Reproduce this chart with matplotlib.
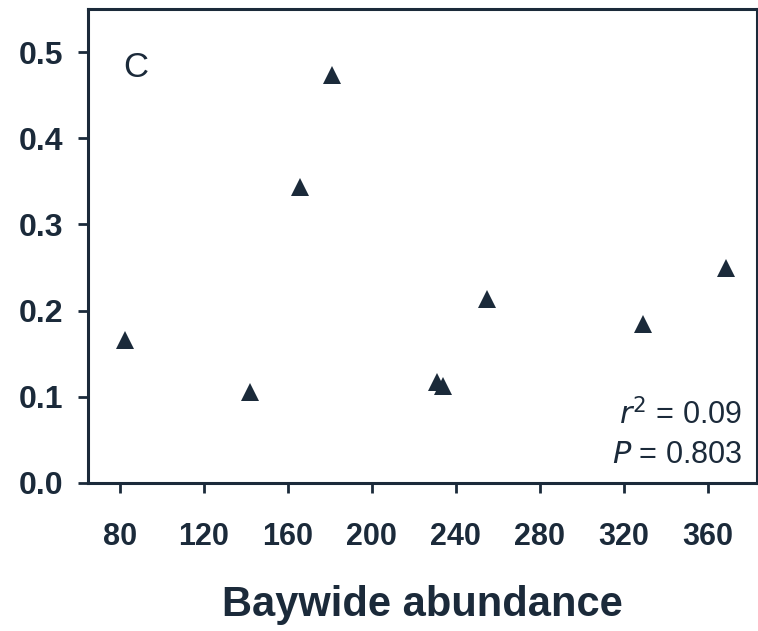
import matplotlib
matplotlib.use("Agg")
import matplotlib.pyplot as plt

abundance = [82.4, 141.9, 165.7, 181.0, 231.0, 233.8, 254.8, 329.0, 368.6]
value = [0.166, 0.106, 0.343, 0.473, 0.117, 0.112, 0.214, 0.185, 0.250]
xticks = [80, 120, 160, 200, 240, 280, 320, 360]
yticks = [0.0, 0.1, 0.2, 0.3, 0.4, 0.5]

ink = "#1b2a3a"
plt.rcParams['font.family'] = ['Liberation Sans', 'DejaVu Sans']

fig = plt.figure(figsize=(7.58, 6.31), dpi=100)
ax = fig.add_axes([88/758, 1-483/631, (757-88)/758, (483-9)/631])
ax.plot(abundance, value, linestyle='none', marker='^', markersize=13,
        color=ink, markeredgewidth=0)
ax.set_xlim(64.8, 383.5)
ax.set_ylim(0, 0.55)
ax.set_xticks(xticks)
ax.set_yticks(yticks)
ax.set_yticklabels([f"{v:.1f}" for v in yticks])
for s in ax.spines.values():
    s.set_linewidth(2.2)
    s.set_color(ink)
ax.tick_params(direction='out', length=7, width=2, color=ink, labelcolor=ink,
               labelsize=22)
ax.tick_params(axis='x', pad=21)
ax.tick_params(axis='y', pad=11, labelsize=23)
for lab in ax.get_xticklabels() + ax.get_yticklabels():
    lab.set_fontweight('bold')
ax.set_xlabel("Baywide abundance", fontsize=30, fontweight='bold', color=ink, labelpad=24)
ax.text(0.072, 0.876, "C", transform=ax.transAxes, fontsize=25, fontweight='medium',
        color=ink, ha='center', va='center')
ax.text(0.978, 0.143, r"$\mathit{r}^{2}$ = 0.09", transform=ax.transAxes, fontsize=22,
        color=ink, ha='right', va='center')
ax.text(0.978, 0.059, r"$\mathit{P}$ = 0.803", transform=ax.transAxes, fontsize=22,
        color=ink, ha='right', va='center')
fig.savefig("out.png", dpi=100)
